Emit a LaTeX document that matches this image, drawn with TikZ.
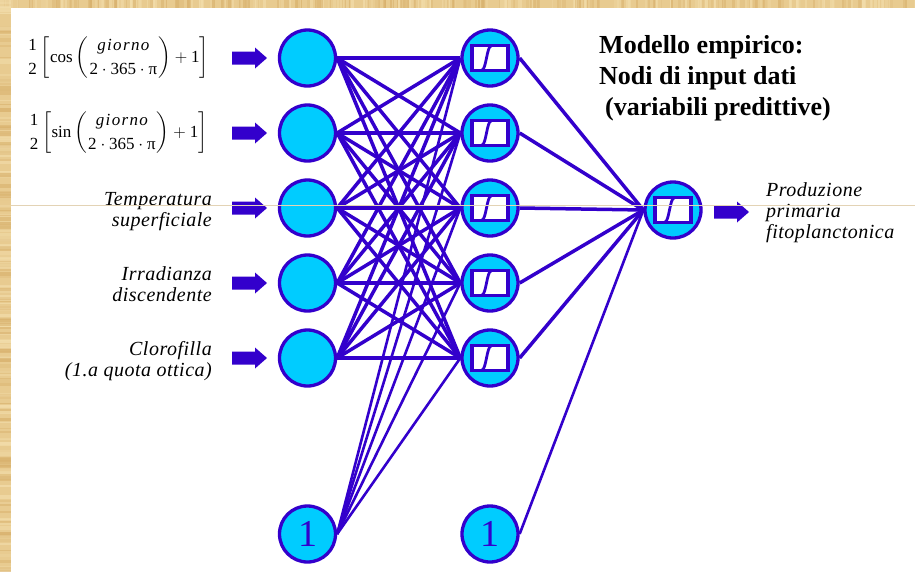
\documentclass[tikz,border=0pt]{standalone}
\usepackage{amsmath}
\usepackage{fontspec}
\setmainfont{Liberation Serif}
\definecolor{nnblue}{HTML}{3300CC}
\definecolor{nncyan}{HTML}{00CCFF}
\definecolor{tanbg}{HTML}{E8CB90}
\definecolor{tandark}{HTML}{D9B26E}
\definecolor{tanlight}{HTML}{F3DEAC}
\definecolor{tanline}{HTML}{E3D3B5}
\pgfdeclarelayer{bg}
\pgfdeclarelayer{edges}
\pgfsetlayers{bg,edges,main}
\begin{document}
\begin{tikzpicture}[x=1pt,y=-1pt,
  nodebase/.style={circle, draw=nnblue, line width=3.3pt, fill=nncyan, minimum size=56pt, inner sep=0pt},
  innode/.style={nodebase},
  hidnode/.style={nodebase, path picture={
      \draw[nnblue, line width=3.3pt, fill=white]
        ([shift={(-18,-12.5)}]path picture bounding box.center) rectangle
        ([shift={(18,12.5)}]path picture bounding box.center);
      \draw[nnblue, line width=2.8pt]
        ([shift={(-8,12)}]path picture bounding box.center) .. controls
        ([shift={(-4,12)}]path picture bounding box.center) and
        ([shift={(-3,-12)}]path picture bounding box.center) ..
        ([shift={(1,-12)}]path picture bounding box.center);
    }},
  biasnode/.style={nodebase, text=nnblue, font=\fontsize{38}{38}\selectfont},
  conn/.style={draw=nnblue, line width=3.5pt},
  thinconn/.style={draw=nnblue, line width=2.6pt},
  lbl/.style={font=\fontsize{20}{21}\selectfont\itshape\addfontfeatures{LetterSpace=2.5}, align=right, anchor=east, inner sep=0pt},
  outlbl/.style={font=\fontsize{20}{21}\selectfont\itshape\addfontfeatures{LetterSpace=2.5}, align=left, anchor=west, inner sep=0pt},
  formula/.style={inner sep=0pt, font=\fontsize{17}{20}\selectfont},
  titlelbl/.style={anchor=north west, align=left, inner sep=0pt, font=\fontsize{26}{31}\selectfont\bfseries},
  inarrow/.pic={\fill[nnblue] (-17.5,-6.5) -- (5.5,-6.5) -- (5.5,-10.5) -- (17.5,0) -- (5.5,10.5) -- (5.5,6.5) -- (-17.5,6.5) -- cycle;}
]
\useasboundingbox (0,0) rectangle (915,571);
\begin{pgfonlayer}{bg}
  \fill[tanbg] (0,0) rectangle (915,571);
  \pgfmathsetseed{7}
  \foreach \k in {1,...,160}{
    \pgfmathsetmacro{\xx}{rnd*915}
    \pgfmathsetmacro{\ww}{1+3*rnd}
    \pgfmathsetmacro{\op}{0.2+0.5*rnd}
    \fill[tandark, opacity=\op] (\xx,0) rectangle (\xx+\ww,8);
    \pgfmathsetmacro{\xb}{rnd*915}
    \fill[tanlight, opacity=\op] (\xb,0) rectangle (\xb+\ww,8);
  }
  \foreach \k in {1,...,110}{
    \pgfmathsetmacro{\yy}{rnd*571}
    \pgfmathsetmacro{\hh}{1+4*rnd}
    \pgfmathsetmacro{\op}{0.2+0.5*rnd}
    \fill[tandark, opacity=\op] (0,\yy) rectangle (11,\yy+\hh);
    \pgfmathsetmacro{\yb}{rnd*571}
    \fill[tanlight, opacity=\op] (0,\yb) rectangle (11,\yb+\hh);
  }
  \fill[white] (11,8) rectangle (915,571);
\end{pgfonlayer}

% input and hidden nodes
\foreach \i/\y in {1/58,2/133,3/208,4/283,5/358}{
  \node[innode] (i\i) at (307.5,\y) {};
  \node[hidnode] (h\i) at (490,\y) {};
  \path (249.5,\y) coordinate (a\i) pic{inarrow};
}
\node[biasnode] (b1) at (307.5,534) {1};
\node[biasnode] (b2) at (490,534) {1};
\node[hidnode] (o) at (673,210) {};
\path (731.5,212) coordinate (ao) pic{inarrow};

\begin{pgfonlayer}{edges}
  \foreach \a in {1,...,5}{
    \foreach \b in {1,...,5}{
      \draw[conn] (i\a.east) -- (h\b.west);
    }
    \draw[thinconn] (b1.east) -- (h\a.west);
    \draw[conn] (h\a.east) -- (o.west);
  }
  \draw[thinconn] (b2.east) -- (o.west);
\end{pgfonlayer}

% formulas
\node[formula] (f1) at (118,58) {$\genfrac{}{}{0pt}{0}{\mbox{1}}{\mbox{2}}\left[\mbox{cos}\left(\genfrac{}{}{0pt}{0}{\mbox{\itshape\addfontfeatures{LetterSpace=8}giorno}}{\mbox{2}\cdot\mbox{365}\cdot\mbox{π}}\right)+\mbox{1}\right]$};
\node[formula] (f2) at (118,133) {$\genfrac{}{}{0pt}{0}{\mbox{1}}{\mbox{2}}\left[\mbox{sin}\left(\genfrac{}{}{0pt}{0}{\mbox{\itshape\addfontfeatures{LetterSpace=8}giorno}}{\mbox{2}\cdot\mbox{365}\cdot\mbox{π}}\right)+\mbox{1}\right]$};

% labels
\node[lbl] (l3) at (212,212) {Temperatura\\superficiale};
\node[lbl] (l4) at (212,284.5) {Irradianza\\discendente};
\node[lbl] (l5) at (212,361.5) {Clorofilla\\(1.a quota ottica)};
\node[outlbl] (lo) at (766,212.3) {Produzione\\primaria\\fitoplanctonica};
\node[titlelbl] (title) at (599,35.5) {Modello empirico:\\Nodi di input dati\\\hspace*{6pt}(variabili predittive)};

\draw[tanline, line width=1pt] (11,205) -- (915,205);
\end{tikzpicture}
\end{document}
